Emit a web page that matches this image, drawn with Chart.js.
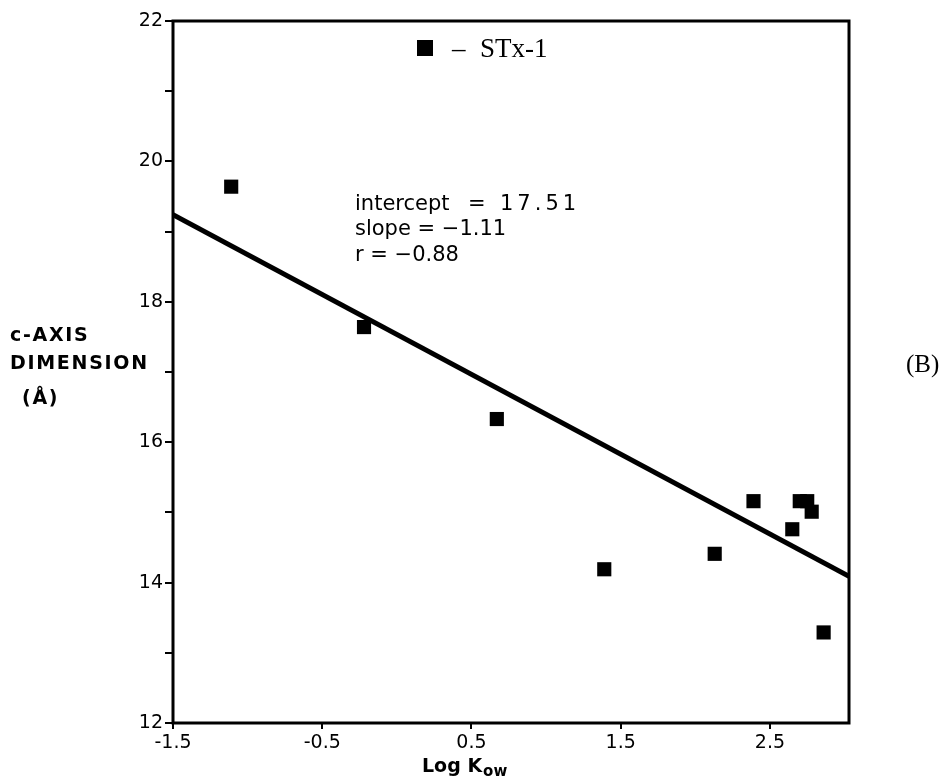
<!DOCTYPE html>
<html lang="en">
<head>
<meta charset="UTF-8" />
<title>c-Axis Dimension vs Log Kow</title>
<script src="https://cdn.jsdelivr.net/npm/chart.js"></script>
<style>
  body { margin: 0; background: #fff; }
  .wrap { width: 948px; height: 781px; position: relative; }
</style>
</head>
<body>
<div class="wrap"><canvas id="kowChart"></canvas></div>
<script>
// values
const logKow = [-1.11, -0.22, 0.67, 1.39, 2.13, 2.39, 2.65, 2.70, 2.75, 2.78, 2.86];
const cAxis  = [19.64, 17.64, 16.33, 14.19, 14.41, 15.16, 14.76, 15.16, 15.16, 15.01, 13.29];
const fitX = [-1.5, 3.03];
const fitY = [19.24, 14.09];
const xTicks = [-1.5, -0.5, 0.5, 1.5, 2.5];
const yTicks = [12, 13, 14, 15, 16, 17, 18, 19, 20, 21, 22];
const yLabels = ["12", "", "14", "", "16", "", "18", "", "20", "", "22"];
const seriesName = "STx-1";
const fitText = ["intercept", "=", "17.51", "slope = \u22121.11", "r = \u22120.88"];

const decorations = {
  id: "decorations",
  afterDraw(chart) {
    const { ctx, chartArea: a } = chart;
    ctx.save();
    ctx.strokeStyle = "#000";
    ctx.fillStyle = "#000";
    ctx.lineWidth = 3;
    ctx.strokeRect(a.left, a.top, a.right - a.left, a.bottom - a.top);

    // legend
    ctx.fillRect(417, 40, 16, 16);
    ctx.font = "27px 'Liberation Serif'";
    ctx.textBaseline = "alphabetic";
    ctx.fillText("\u2013", 452, 57);
    ctx.fillText(seriesName, 480, 57);

    // regression stats
    ctx.font = "21px 'DejaVu Sans'";
    ctx.fillText(fitText[0], 355, 210);
    ctx.fillText(fitText[1], 468, 210);
    ctx.letterSpacing = "4px";
    ctx.fillText(fitText[2], 500, 210);
    ctx.letterSpacing = "0px";
    ctx.fillText(fitText[3], 355, 235);
    ctx.fillText(fitText[4], 355, 261);

    // panel tag
    ctx.font = "25px 'Liberation Serif'";
    ctx.fillText("(B)", 906, 372);

    // y title
    ctx.font = "bold 19px 'DejaVu Sans'";
    ctx.letterSpacing = "1.7px";
    ctx.fillText("c-AXIS", 10, 341);
    ctx.fillText("DIMENSION", 10, 369);
    ctx.fillText("(\u00C5)", 22, 404);

    // x title with subscript
    ctx.letterSpacing = "0px";
    ctx.fillText("Log K", 422, 772);
    const w = ctx.measureText("Log K").width;
    ctx.font = "bold 15px 'DejaVu Sans'";
    ctx.fillText("ow", 422 + w + 1, 776);
    ctx.restore();
  }
};

new Chart(document.getElementById("kowChart"), {
  type: "scatter",
  data: {
    datasets: [
      {
        label: seriesName,
        data: logKow.map((x, i) => ({ x: x, y: cAxis[i] })),
        pointStyle: "rect",
        pointRadius: 10,
        backgroundColor: "#000",
        borderColor: "#000",
        borderWidth: 0
      },
      {
        label: "fit",
        data: fitX.map((x, i) => ({ x: x, y: fitY[i] })),
        showLine: true,
        pointRadius: 0,
        borderColor: "#000",
        borderWidth: 5
      }
    ]
  },
  plugins: [decorations],
  options: {
    responsive: true,
    maintainAspectRatio: false,
    animation: false,
    layout: { padding: { top: 21, right: 99, left: 0, bottom: 0 } },
    plugins: { legend: { display: false }, tooltip: { enabled: false } },
    scales: {
      x: {
        type: "linear",
        min: -1.5,
        max: 3.03,
        afterBuildTicks: (s) => { s.ticks = xTicks.map((v) => ({ value: v })); },
        afterFit: (s) => { s.height = 58; },
        border: { display: false },
        grid: { drawOnChartArea: false, color: "#000", lineWidth: 2, tickLength: 6 },
        ticks: {
          color: "#000",
          padding: 3,
          font: { family: "'DejaVu Sans'", size: 19 },
          callback: (v) => v.toFixed(1)
        }
      },
      y: {
        min: 12,
        max: 22,
        afterBuildTicks: (s) => { s.ticks = yTicks.map((v) => ({ value: v })); },
        afterFit: (s) => { s.width = 173; },
        border: { display: false },
        grid: { drawOnChartArea: false, color: "#000", lineWidth: 2, tickLength: 8 },
        ticks: {
          color: "#000",
          padding: 2,
          font: { family: "'DejaVu Sans'", size: 19 },
          callback: (v, i) => yLabels[i]
        }
      }
    }
  }
});
</script>
</body>
</html>
